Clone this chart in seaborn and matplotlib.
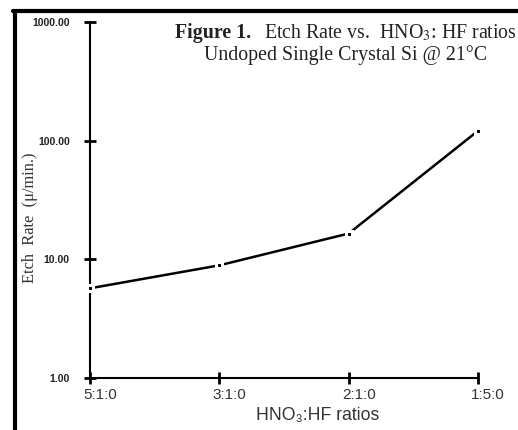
import pandas as pd
import seaborn as sns
import matplotlib
matplotlib.use('Agg')
import matplotlib.pyplot as plt
import matplotlib.transforms as mtransforms
from matplotlib.lines import Line2D

# данные
ratios = ['5:1:0', '3:1:0', '2:1:0', '1:5:0']
etch_rate = [5.7, 8.9, 16.5, 121.0]
y_ticks = [1, 10, 100, 1000]
y_tick_labels = ['1.00', '10.00', '100.00', '1000.00']

df = pd.DataFrame({'pos': range(len(ratios)), 'rate': etch_rate})

sns.set_style('white')
plt.rcParams['font.family'] = ['Liberation Sans', 'DejaVu Sans']

fig = plt.figure(figsize=(5.18, 4.30), dpi=100)
ax = fig.add_axes([90 / 518, 1 - 378 / 430, 388 / 518, 356 / 430])

sns.lineplot(data=df, x='pos', y='rate', ax=ax, color='black', linewidth=1.8,
             marker='s', markersize=4.5, markerfacecolor='black',
             markeredgecolor='white', markeredgewidth=2.2, clip_on=False, zorder=5)

ax.set_yscale('log')
ax.set_ylim(1, 1000)
ax.set_xlim(0, 3)
ax.set_yticks(y_ticks)
ax.set_yticklabels(y_tick_labels, fontsize=7.5, fontweight='bold', color='#222222')
ax.minorticks_off()
ax.set_xticks(range(len(ratios)))
ax.set_xticklabels(ratios, fontsize=11, color='#333333')
ax.set_xlabel('')
ax.set_ylabel('')

for s in ['top', 'right']:
    ax.spines[s].set_visible(False)
for s in ['left', 'bottom']:
    ax.spines[s].set_color('black')
    ax.spines[s].set_linewidth(1.5)
ax.tick_params(axis='both', direction='inout', length=9, width=2, color='black', left=True, bottom=True)
ax.tick_params(axis='y', pad=10)
ax.tick_params(axis='x', pad=3)

# подписи по x в оригинале чуть сдвинуты вправо (после tick_params, иначе сбросится)
shift = mtransforms.ScaledTranslation(10 / 100, 0, fig.dpi_scale_trans)
for lbl in ax.get_xticklabels():
    lbl.set_transform(lbl.get_transform() + shift)

# подписи
fig.text(318 / 518, 1 - 416 / 430, 'HNO\u2083:HF ratios', ha='center', va='center',
         fontsize=12.7, color='#333333')
fig.text(30 / 518, 1 - 218 / 430, 'Etch  Rate  (\u03bc/min.)', rotation=90, ha='center',
         va='center', fontsize=11.8, family='Liberation Serif', color='#333333')

fig.text(175 / 518, 1 - 33 / 430, 'Figure 1.', ha='left', va='center', fontsize=14.3,
         family='Liberation Serif', fontweight='bold', color='#222222')
fig.text(517 / 518, 1 - 33 / 430, 'Etch Rate vs.  HNO$_3$: HF ratios', ha='right', va='center',
         fontsize=14.3, family='Liberation Serif', color='#222222', math_fontfamily='stix')
fig.text(346 / 518, 1 - 55 / 430, 'Undoped Single Crystal Si @ 21\u00b0C', ha='center',
         va='center', fontsize=14.3, family='Liberation Serif', color='#222222')

# рамка слева и сверху
fig.add_artist(Line2D([15 / 518, 15 / 518], [0, 1 - 11 / 430], color='black', linewidth=3,
                      transform=fig.transFigure))
fig.add_artist(Line2D([13 / 518, 1], [1 - 11 / 430, 1 - 11 / 430], color='black', linewidth=3,
                      transform=fig.transFigure))

plt.savefig('out.png', dpi=100)
